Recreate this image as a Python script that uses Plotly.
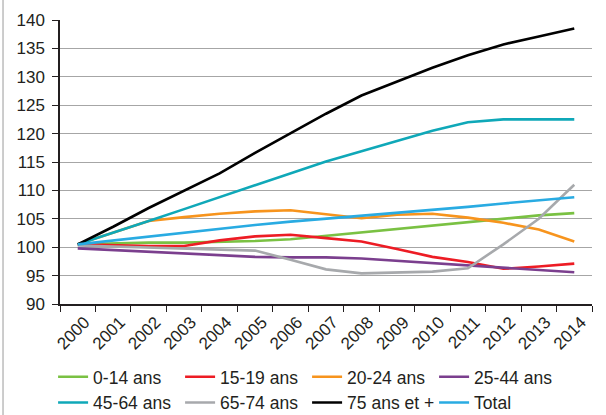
import plotly.graph_objects as go

years = [str(y) for y in range(2000, 2015)]

s_0_14 = [100.5, 100.7, 100.8, 100.8, 100.9, 101.1, 101.4, 102.0, 102.5, 103.1, 103.7, 104.4, 105.0, 105.6, 106.0]
s_15_19 = [100.5, 100.3, 100.2, 100.2, 101.2, 101.9, 102.2, 101.6, 101.0, 99.7, 98.3, 97.4, 96.2, 96.6, 97.1]
s_20_24 = [100.5, 102.6, 104.6, 105.3, 105.9, 106.3, 106.5, 105.8, 105.1, 105.7, 105.9, 105.2, 104.3, 103.1, 101.0]
s_25_44 = [99.8, 99.5, 99.2, 98.8, 98.5, 98.3, 98.2, 98.2, 98.0, 97.6, 97.1, 96.7, 96.3, 96.0, 95.6]
s_45_64 = [100.5, 102.5, 104.6, 106.7, 108.8, 110.9, 113.0, 115.1, 116.9, 118.7, 120.5, 122.0, 122.5, 122.5, 122.5]
s_65_74 = [100.3, 100.1, 99.9, 99.8, 99.6, 99.4, 97.8, 96.1, 95.4, 95.5, 95.7, 96.3, 100.5, 105.0, 111.0]
s_75p = [100.5, 103.6, 106.9, 110.0, 113.0, 116.6, 120.1, 123.5, 126.7, 129.2, 131.6, 133.8, 135.7, 137.1, 138.5]
s_total = [100.5, 101.2, 101.8, 102.5, 103.2, 103.9, 104.5, 105.0, 105.6, 106.1, 106.6, 107.1, 107.7, 108.2, 108.8]

names = ["0-14 ans", "15-19 ans", "20-24 ans", "25-44 ans",
         "45-64 ans", "65-74 ans", "75 ans et +", "Total"]
series = [s_0_14, s_15_19, s_20_24, s_25_44, s_45_64, s_65_74, s_75p, s_total]
colors = ["#7AC143", "#ED1C24", "#F7941D", "#7B3F8E",
          "#0FA8B8", "#A7A9AC", "#000000", "#29ABE2"]

y_ticks = [90, 95, 100, 105, 110, 115, 120, 125, 130, 135, 140]

fig = go.Figure()
for n, s, c in zip(names, series, colors):
    fig.add_trace(go.Scatter(x=years, y=s, name=n, mode="lines",
                             line=dict(color=c, width=2.6)))

font_fam = "Liberation Sans, Arial, sans-serif"
fs = 17.5
tfs = 17
fig.update_layout(
    width=606, height=415,
    margin=dict(l=60, r=14, t=20, b=111, autoexpand=False),
    paper_bgcolor="white", plot_bgcolor="white",
    font=dict(family=font_fam, size=fs, color="#231F20"),
    showlegend=True,
    legend=dict(orientation="h", x=-0.013, xanchor="left", y=-0.193, yanchor="top",
                font=dict(size=fs, color="#231F20"), itemwidth=30,
                entrywidth=82, traceorder="normal", bgcolor="rgba(0,0,0,0)"),
    xaxis=dict(type="category", showgrid=False, showline=True, linecolor="#231F20",
               linewidth=1.5, ticks="outside", tickson="boundaries", ticklen=6,
               tickcolor="#231F20", tickangle=-45, tickfont=dict(size=tfs),
               ticklabelshift=7, range=[-0.5, 14.5], automargin=False),
    yaxis=dict(range=[90, 140], tickvals=y_ticks, showgrid=True, gridcolor="#A6A6A6",
               gridwidth=1.3, showline=True, linecolor="#231F20", linewidth=1.5,
               ticks="outside", ticklen=6, tickcolor="#231F20", zeroline=False,
               ticklabelstandoff=4, tickfont=dict(size=tfs), automargin=False),
    shapes=[dict(type="line", xref="paper", yref="paper", x0=-0.1071, x1=-0.1071,
                 y0=-0.40, y1=1.08, line=dict(color="#9A9A9A", width=1))],
)

fig.write_html("out.html", config={"displayModeBar": False},
               post_script="document.body.style.margin='0';document.body.style.overflow='hidden';")
